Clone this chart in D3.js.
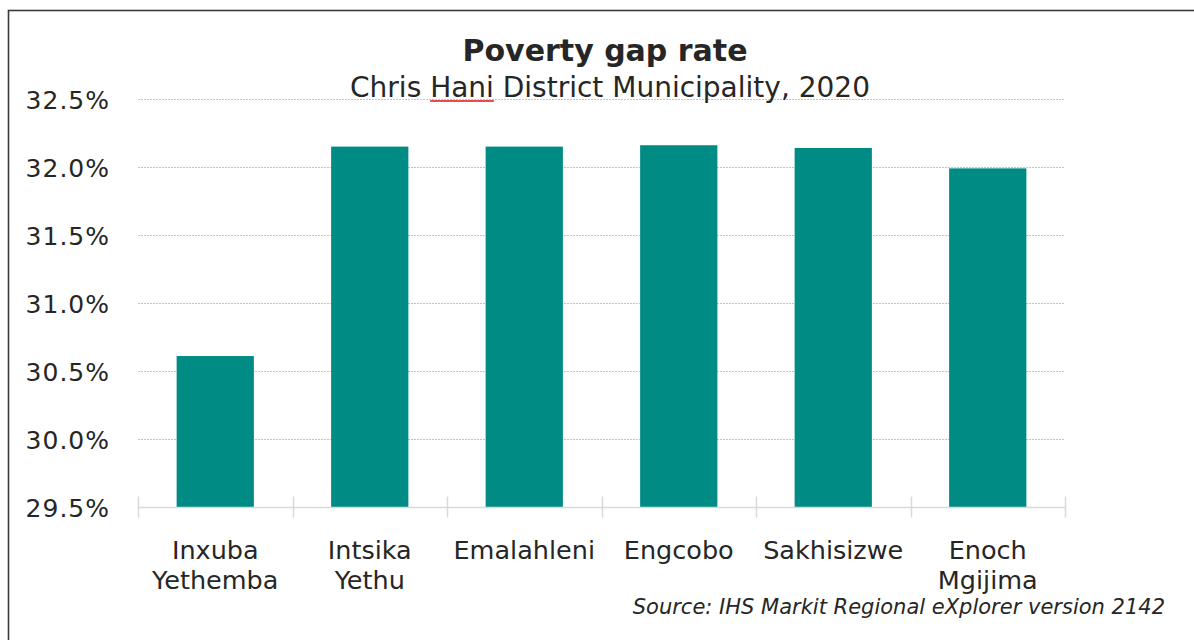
<!DOCTYPE html>
<html>
<head>
<meta charset="utf-8">
<script src="https://cdn.jsdelivr.net/npm/d3@7"></script>
<style>
  html, body { margin: 0; padding: 0; background: #fff; }
  svg { display: block; }
  text { font-family: "DejaVu Sans", Verdana, sans-serif; fill: #262626; }
</style>
</head>
<body>
<svg id="chart" width="1194" height="640"></svg>
<script>
// Poverty gap rate by local municipality, Chris Hani District, 2020
const municipalities = [
  ["Inxuba", "Yethemba"],
  ["Intsika", "Yethu"],
  ["Emalahleni"],
  ["Engcobo"],
  ["Sakhisizwe"],
  ["Enoch", "Mgijima"]
];
const povertyGap = [30.61, 32.15, 32.15, 32.16, 32.14, 31.99];
const yTicks = [29.5, 30.0, 30.5, 31.0, 31.5, 32.0, 32.5];

const svg = d3.select("#chart");
const W = 1194, H = 640;
const margin = { left: 138, right: 129, top: 99, bottom: 133 };

// outer frame
svg.append("rect")
  .attr("x", 8.5).attr("y", 10.5)
  .attr("width", W + 20).attr("height", H + 20)
  .attr("fill", "none").attr("stroke", "#3a3a3a").attr("stroke-width", 1.6);

const x = d3.scaleBand()
  .domain(d3.range(municipalities.length))
  .range([margin.left, W - margin.right])
  .paddingInner(0.5).paddingOuter(0.25);

const y = d3.scaleLinear()
  .domain([29.5, 32.5])
  .range([H - margin.bottom, margin.top]);

// horizontal gridlines
svg.append("g")
  .selectAll("line")
  .data(yTicks.slice(1))
  .join("line")
  .attr("x1", margin.left).attr("x2", W - margin.right)
  .attr("y1", d => Math.round(y(d)) + 0.5).attr("y2", d => Math.round(y(d)) + 0.5)
  .attr("stroke", "#c4c4c4").attr("stroke-width", 1)
  .attr("stroke-dasharray", "2,1");

// y axis labels
const yAxis = d3.axisLeft(y).tickValues(yTicks)
  .tickFormat(d => d3.format(".1f")(d) + "%")
  .tickSize(0).tickPadding(28);
const yg = svg.append("g").attr("transform", `translate(${margin.left},0)`).call(yAxis);
yg.select(".domain").remove();
yg.selectAll("text")
  .attr("font-size", 25).attr("font-family", "DejaVu Sans").attr("fill", "#262626")
  .attr("letter-spacing", 1)
  .attr("dy", "0.36em");

// bars
svg.append("g")
  .selectAll("rect")
  .data(povertyGap)
  .join("rect")
  .attr("x", (d, i) => x(i))
  .attr("width", x.bandwidth())
  .attr("y", d => y(d))
  .attr("height", d => y(29.5) - y(d))
  .attr("fill", "#008c84");

// category axis with crossing tick marks at band edges
const step = x.step();
const x0 = margin.left, x1 = W - margin.right;
const baseY = Math.round(y(29.5)) + 0.5;
const axisG = svg.append("g");
axisG.append("line")
  .attr("x1", x0).attr("x2", x1).attr("y1", baseY).attr("y2", baseY)
  .attr("stroke", "#d9d9d9").attr("stroke-width", 1.5);
axisG.selectAll("line.tick")
  .data(d3.range(municipalities.length + 1))
  .join("line").attr("class", "tick")
  .attr("x1", i => Math.round(x0 + i * step) + 0.5)
  .attr("x2", i => Math.round(x0 + i * step) + 0.5)
  .attr("y1", baseY - 11).attr("y2", baseY + 10)
  .attr("stroke", "#d9d9d9").attr("stroke-width", 1.5);

// category labels
const labels = svg.append("g")
  .selectAll("text")
  .data(municipalities)
  .join("text")
  .attr("text-anchor", "middle")
  .attr("font-size", 25.5)
  .attr("x", (d, i) => x(i) + x.bandwidth() / 2)
  .attr("y", 559);
labels.selectAll("tspan")
  .data(d => d)
  .join("tspan")
  .attr("x", function () { return this.parentNode.getAttribute("x"); })
  .attr("dy", (d, i) => i === 0 ? 0 : 30)
  .text(d => d);

// titles
svg.append("text")
  .attr("x", 605).attr("y", 61)
  .attr("text-anchor", "middle")
  .attr("font-size", 30).attr("font-weight", "bold")
  .attr("fill", "#000")
  .text("Poverty gap rate");

const sub = svg.append("text")
  .attr("x", 610).attr("y", 97)
  .attr("text-anchor", "middle")
  .attr("font-size", 28);
sub.append("tspan").text("Chris ");
sub.append("tspan").text("Hani");
sub.append("tspan").text(" District Municipality, 2020");

// red underline beneath the second word
const node = sub.node();
const start = node.getStartPositionOfChar(6);
const end = node.getEndPositionOfChar(9);
svg.append("line")
  .attr("x1", start.x).attr("x2", end.x)
  .attr("y1", 101).attr("y2", 101)
  .attr("stroke", "#e01010").attr("stroke-width", 1.6);

// source note
svg.append("text")
  .attr("x", 1165).attr("y", 614)
  .attr("text-anchor", "end")
  .attr("font-size", 21).attr("font-style", "italic")
  .text("Source: IHS Markit Regional eXplorer version 2142");
</script>
</body>
</html>
